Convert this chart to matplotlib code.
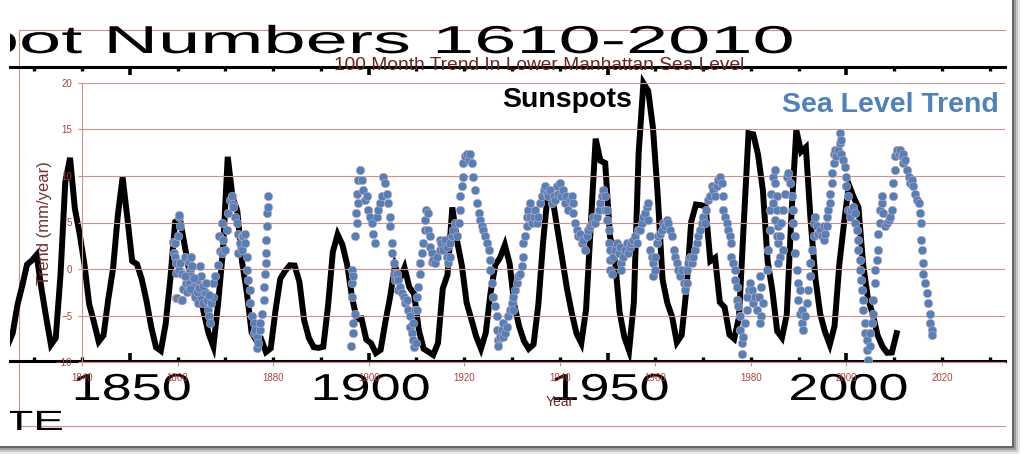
import numpy as np
import matplotlib
matplotlib.use('Agg')
import matplotlib.pyplot as plt
from matplotlib.patches import Rectangle
from matplotlib.lines import Line2D
from matplotlib.patheffects import AbstractPathEffect
from matplotlib.transforms import Affine2D, Bbox

# ---------------- data ----------------
# yearly mean sunspot number (black line, pasted-in chart)
ss_year = np.arange(1823, 2011)
ss_num = [1.8, 8.5, 16.6, 36.3, 49.6, 64.2, 67.0, 70.9, 47.8, 27.5, 8.5, 13.2, 56.9,
          121.5, 138.3, 103.2, 85.7, 64.6, 36.7, 24.2, 10.7, 15.0, 40.1, 61.5, 98.5,
          124.7, 96.3, 66.6, 64.5, 54.1, 39.0, 20.6, 6.7, 4.3, 22.7, 54.8, 93.8, 95.8,
          77.2, 59.1, 44.0, 47.0, 30.5, 16.3, 7.3, 37.6, 74.0, 139.0, 111.2, 101.6,
          66.2, 44.7, 17.0, 11.3, 12.4, 3.4, 6.0, 32.3, 54.3, 59.7, 63.7, 63.5, 52.2,
          25.4, 13.1, 6.8, 6.3, 7.1, 35.6, 73.0, 85.1, 78.0, 64.0, 41.8, 26.2, 26.7,
          12.1, 9.5, 2.7, 5.0, 24.4, 42.0, 63.5, 53.8, 62.0, 48.5, 43.9, 18.6, 5.7,
          3.6, 1.4, 9.6, 47.4, 57.1, 103.9, 80.6, 63.6, 37.6, 26.1, 14.2, 5.8, 16.7,
          44.3, 63.9, 69.0, 77.8, 64.9, 35.7, 21.2, 11.1, 5.7, 8.7, 36.1, 79.7, 114.4,
          109.6, 88.8, 67.8, 47.5, 30.6, 16.3, 9.6, 33.2, 92.6, 151.6, 136.3, 134.7,
          83.9, 69.4, 31.5, 13.9, 4.4, 38.0, 141.7, 190.2, 184.8, 159.0, 112.3, 53.9,
          37.6, 27.9, 10.2, 15.1, 47.0, 93.8, 105.9, 105.5, 104.5, 66.6, 68.9, 38.0,
          34.5, 15.5, 12.6, 27.5, 92.5, 155.4, 154.6, 140.4, 115.9, 66.6, 45.9, 17.9,
          13.4, 29.4, 100.2, 157.6, 142.6, 145.7, 94.3, 54.6, 29.9, 17.5, 8.6, 21.5,
          64.3, 93.3, 119.6, 111.0, 104.0, 63.7, 40.4, 29.8, 15.2, 7.5, 2.9, 3.1, 16.5]

# 100 month sea level trend, Lower Manhattan (mm/year)
sl_1859 = [(1859.0, 2.9), (1859.3, 1.7), (1859.5, 1.3), (1859.5, 2.8), (1859.6, 0.6),
           (1859.7, -0.4), (1859.6, -3.1), (1859.8, -3.1), (1860.0, 3.5), (1860.2, 5.6),
           (1860.4, 5.8), (1860.5, 4.6), (1860.2, -0.1), (1860.8, -3.3), (1860.9, -3.3),
           (1860.6, 0.6), (1860.9, -0.5), (1861.2, -2.1), (1861.6, 1.3), (1861.8, -1.5),
           (1862.3, 0.8), (1862.3, -1.5), (1862.6, -0.1), (1862.9, 1.3), (1862.9, -0.8),
           (1863.0, 0.3), (1863.3, -1.9), (1863.6, -3.0), (1864.0, -1.2), (1864.3, -3.7),
           (1864.7, 0.3), (1865.0, -0.8), (1865.0, -3.0), (1865.4, -3.7), (1865.7, -2.5),
           (1866.1, -3.3), (1866.4, -4.4), (1866.5, -5.1), (1866.8, -5.8), (1867.1, -3.7),
           (1867.5, -3.0), (1867.5, -1.5), (1867.8, -0.8), (1861.5, -0.8), (1862.0, -2.5),
           (1862.6, -2.2), (1863.5, -1.0), (1864.0, -2.5), (1864.5, -2.0), (1865.3, -1.8),
           (1866.0, -1.5), (1866.6, -2.8),
           (1868.5, 0.4), (1868.7, 3.5), (1868.9, 1.9), (1869.2, 4.9), (1869.2, 1.7),
           (1869.6, 3.1), (1869.9, 2.0), (1870.3, 4.2), (1870.6, 6.0), (1871.0, 7.4),
           (1871.3, 7.8), (1871.5, 7.0), (1871.7, 6.7), (1872.0, 5.6), (1872.4, 4.9),
           (1872.7, 3.8), (1872.7, 1.7), (1873.1, 2.8), (1873.4, 2.0), (1873.4, 3.5),
           (1873.8, 3.5), (1874.1, 3.8), (1874.1, 2.8), (1874.5, 1.3), (1874.5, -0.1),
           (1874.8, -1.2), (1875.2, -2.3), (1875.2, -3.7), (1875.5, -5.1), (1875.9, -5.8),
           (1875.9, -6.9), (1876.2, -6.6), (1876.6, -7.3), (1876.6, -8.5), (1876.9, -8.0),
           (1877.3, -6.6), (1877.3, -5.8), (1877.6, -4.8), (1878.0, -3.3), (1878.1, -1.9),
           (1878.3, -0.5), (1878.5, 0.6), (1878.5, 1.7), (1878.6, 3.1), (1878.8, 4.6),
           (1878.8, 6.0), (1879.0, 6.7), (1879.0, 7.8)]

sl_1896 = [(1896.4, -8.3), (1896.5, -0.1), (1896.6, -1.5), (1896.8, -6.9), (1896.8, -5.8),
           (1896.7, -0.8), (1896.5, -3.0), (1897.1, -4.8), (1897.1, 3.5), (1897.5, 4.9),
           (1897.4, 6.0), (1897.8, 7.1), (1897.6, 8.1), (1897.8, 9.6), (1898.2, 10.6),
           (1898.5, 9.6), (1898.9, 8.5), (1899.2, 7.4), (1899.6, 7.8), (1899.9, 6.3),
           (1900.3, 5.6), (1900.6, 4.9), (1900.9, 3.8), (1901.3, 2.8), (1901.7, 5.6),
           (1902.0, 6.3), (1902.4, 7.1), (1902.7, 7.8), (1903.1, 9.9), (1903.4, 9.2),
           (1903.8, 8.1), (1904.1, 7.1), (1904.5, 5.6), (1904.5, 4.6), (1904.8, 2.8),
           (1904.8, 1.7), (1905.2, 0.6), (1905.2, -0.5), (1905.5, -1.2), (1905.9, -0.5),
           (1906.2, -1.2), (1906.2, -2.3), (1906.6, -1.9), (1906.9, -2.6), (1907.3, -3.0),
           (1907.6, -3.7), (1908.0, -3.3), (1908.3, -4.4), (1908.6, -5.1), (1908.6, -6.2),
           (1909.0, -6.9), (1909.3, -7.6), (1909.5, -8.4), (1909.8, -8.0), (1909.3, -5.8),
           (1909.7, -4.4), (1910.1, -3.0), (1910.1, -4.4), (1910.4, -1.9), (1910.7, -0.5),
           (1910.7, 0.6), (1911.1, 1.7), (1911.4, 2.8), (1911.8, 4.2), (1911.8, 5.3),
           (1912.1, 6.3), (1912.5, 6.0), (1912.5, 4.2), (1912.8, 3.5), (1912.8, 2.4),
           (1913.2, 1.7), (1913.2, 0.8), (1913.5, 1.0), (1913.9, 0.6), (1914.2, 1.3),
           (1914.9, 2.0), (1914.9, 3.1), (1915.2, 2.8), (1915.6, 2.0), (1915.9, 3.1),
           (1916.3, 2.4), (1916.3, 1.3), (1916.7, 0.6), (1917.0, 1.3), (1917.0, 2.8),
           (1917.4, 3.5), (1917.7, 4.2), (1918.1, 4.9), (1918.4, 3.5), (1918.8, 4.9),
           (1919.1, 6.3), (1919.1, 7.8), (1919.5, 8.9), (1919.8, 9.9), (1919.8, 11.4),
           (1920.2, 12.1), (1920.5, 12.4), (1920.9, 11.7), (1921.2, 12.4), (1921.6, 11.4),
           (1921.9, 9.9), (1922.3, 8.5), (1922.6, 7.1), (1923.0, 6.0), (1923.3, 5.3),
           (1923.7, 4.6), (1924.0, 4.2), (1924.4, 3.5), (1924.7, 2.8), (1925.1, 2.0),
           (1925.4, 1.0), (1925.4, -0.1), (1925.8, -1.5), (1926.1, -3.0), (1926.5, -4.0),
           (1926.8, -5.1), (1926.8, -6.6), (1927.1, -7.6), (1927.1, -8.3), (1927.5, -7.3),
           (1927.8, -6.6), (1928.2, -5.8), (1928.2, -7.3), (1928.5, -6.9), (1928.9, -6.2),
           (1929.2, -5.1), (1929.6, -4.4), (1929.9, -3.7), (1930.3, -3.0), (1930.3, -4.4),
           (1930.6, -2.3), (1931.0, -1.5), (1931.3, -0.8), (1931.7, -0.5), (1932.0, 0.3),
           (1932.4, 1.3), (1932.4, 2.8), (1932.7, 3.5), (1933.1, 4.6), (1933.1, 5.6),
           (1933.4, 6.3), (1933.8, 7.1), (1933.8, 5.6), (1934.1, 4.9), (1934.5, 5.6),
           (1934.8, 6.3), (1935.2, 4.9), (1935.5, 5.6), (1935.9, 7.1), (1936.2, 7.8),
           (1936.6, 8.5), (1936.9, 8.9), (1937.3, 8.1), (1937.6, 7.8), (1938.0, 8.5),
           (1938.3, 7.1), (1938.7, 7.8), (1939.0, 7.4), (1939.4, 8.9), (1939.7, 8.1)]

sl_1940 = [(1940.0, 9.2), (1940.3, 7.8), (1940.7, 8.5), (1941.1, 7.1), (1941.4, 7.8),
           (1941.8, 6.3), (1942.1, 7.4), (1942.5, 7.8), (1942.8, 7.1), (1942.8, 6.0),
           (1943.2, 4.9), (1943.5, 4.2), (1943.9, 3.5), (1944.2, 3.8), (1944.6, 2.8),
           (1944.9, 3.1), (1945.3, 2.0), (1945.6, 3.5), (1945.9, 4.2), (1946.3, 4.6),
           (1946.7, 4.9), (1947.0, 5.6), (1947.4, 4.9), (1947.7, 5.6), (1948.1, 6.3),
           (1948.4, 7.1), (1948.8, 7.8), (1949.1, 8.5), (1949.5, 7.8), (1949.5, 6.3),
           (1949.8, 6.3), (1949.8, 5.3), (1950.2, 4.2), (1950.2, 2.8), (1950.5, 2.0),
           (1950.5, 1.0), (1950.5, -0.1), (1950.9, -0.5), (1951.2, 1.3), (1951.6, 2.0),
           (1951.9, 2.8), (1952.3, 1.7), (1952.6, 2.4), (1952.9, 0.6), (1952.9, -0.1),
           (1953.3, 1.3), (1953.6, 2.0), (1954.0, 2.8), (1954.3, 1.7), (1954.7, 2.4),
           (1955.0, 2.8), (1955.4, 3.1), (1955.7, 3.5), (1956.1, 2.8), (1956.4, 4.2),
           (1956.8, 4.2), (1957.1, 4.9), (1957.5, 5.6), (1957.8, 6.0), (1958.2, 6.7),
           (1958.5, 7.1), (1958.5, 5.3), (1958.9, 3.5), (1958.9, 2.0), (1959.2, 1.3),
           (1959.6, 0.6), (1959.6, -0.8), (1959.9, -0.1), (1959.9, 1.3), (1960.3, 2.8),
           (1960.6, 3.5), (1961.0, 3.8), (1961.3, 4.2), (1961.7, 4.9), (1962.0, 4.6),
           (1962.4, 5.3), (1962.7, 4.9), (1963.1, 4.2), (1963.4, 3.5), (1963.8, 2.0),
           (1964.1, 1.3), (1964.5, 0.6), (1964.8, -0.1), (1965.2, -0.8), (1965.5, -0.1),
           (1965.9, -1.5), (1966.2, -2.3), (1966.6, -1.5), (1966.6, -0.1), (1966.9, 0.6),
           (1967.3, 1.3), (1967.6, 0.6), (1967.9, 1.3), (1968.3, 2.0), (1968.7, 2.8),
           (1969.0, 3.5), (1969.3, 4.2), (1969.7, 4.9), (1970.0, 5.6), (1970.4, 4.9),
           (1970.7, 6.3), (1971.1, 7.4), (1971.4, 7.8), (1971.8, 8.9), (1972.1, 8.5),
           (1972.5, 7.8), (1972.8, 8.9), (1973.2, 9.6), (1973.5, 9.9), (1973.9, 9.2),
           (1974.2, 7.8), (1974.2, 6.3), (1974.6, 5.6), (1974.9, 4.9), (1975.3, 4.2),
           (1975.6, 3.5), (1975.9, 2.8), (1975.9, 1.3), (1976.3, 0.6), (1976.7, -0.1),
           (1976.7, -1.2), (1977.0, -1.9), (1977.0, -3.3), (1977.4, -4.0), (1977.7, -5.1),
           (1977.7, -6.6), (1978.1, -8.0), (1978.1, -9.1), (1978.4, -7.3), (1978.8, -5.8),
           (1979.1, -4.4), (1979.1, -3.0), (1979.5, -2.3), (1979.8, -1.5), (1980.2, -2.3),
           (1980.5, -3.7), (1980.9, -3.0), (1981.2, -4.4), (1981.6, -3.0)]

sl_1982 = [(1981.9, -0.8), (1982.2, -1.9), (1982.6, -3.7), (1982.2, -5.1), (1981.9, -5.8),
           (1983.3, -0.1), (1983.6, 2.0), (1984.0, 4.2), (1984.0, 6.3), (1984.3, 8.1),
           (1984.7, 9.9), (1985.0, 10.6), (1985.0, 9.2), (1985.4, 7.8), (1985.4, 6.3),
           (1985.7, 4.6), (1985.7, 2.8), (1986.1, 1.3), (1985.7, 0.6), (1985.4, 3.5),
           (1985.0, 5.3), (1984.7, 7.1), (1986.1, 3.5), (1986.4, 4.9), (1986.8, 6.3),
           (1986.8, 2.0), (1987.1, 8.1), (1987.5, 9.9), (1987.8, 10.3), (1988.2, 9.2),
           (1988.5, 7.8), (1988.9, 6.3), (1988.9, 4.9), (1989.2, 3.5), (1989.2, 1.7),
           (1989.6, -0.1), (1989.9, -1.5), (1989.9, -3.3), (1990.3, -4.8), (1990.6, -5.8),
           (1990.9, -6.6), (1990.6, -4.4), (1990.3, -2.3), (1991.3, -5.1), (1991.7, -3.7),
           (1992.0, -2.3), (1992.4, -0.8), (1992.4, 0.6), (1992.7, 2.0), (1993.1, 3.5),
           (1993.1, 4.9), (1993.4, 5.6), (1993.8, 4.6), (1994.1, 3.8), (1994.5, 4.2),
           (1994.8, 3.5), (1995.2, 3.1), (1995.2, 4.6), (1995.5, 3.8), (1995.9, 4.6),
           (1995.9, 5.6), (1996.2, 6.3), (1996.6, 7.1), (1996.6, 8.1), (1996.9, 9.2),
           (1996.9, 10.3), (1997.3, 11.4), (1997.3, 12.4), (1997.6, 12.8), (1997.9, 12.1),
           (1998.3, 12.8), (1998.6, 13.5), (1998.6, 14.6), (1998.9, 13.9), (1998.9, 12.4),
           (1999.3, 11.7), (1999.6, 11.0), (1999.9, 9.9), (1999.9, 8.9), (2000.3, 7.8),
           (2000.3, 6.3), (2000.7, 5.6), (2001.0, 6.3), (2001.4, 6.7), (2001.7, 6.0),
           (2001.7, 4.9), (2002.1, 4.2), (2002.4, 3.1), (2002.4, 2.0), (2002.8, 1.0),
           (2002.8, -0.1), (2003.1, -1.2), (2003.2, -2.3), (2003.5, -3.3), (2003.5, -4.4),
           (2003.9, -5.8), (2003.9, -6.9), (2004.2, -7.6), (2004.2, -8.7), (2004.6, -9.8),
           (2004.9, -8.3), (2004.9, -6.9), (2005.3, -5.8), (2005.6, -4.8), (2005.6, -3.3),
           (2006.0, -1.5), (2006.0, -0.1), (2006.3, 1.0), (2006.7, 2.0), (2006.7, 3.8),
           (2007.0, 4.9), (2007.0, 6.3), (2007.4, 7.1), (2007.4, 7.8), (2007.7, 6.0),
           (2008.1, 4.6), (2008.4, 4.9), (2008.8, 5.3), (2009.1, 5.6), (2009.5, 6.3),
           (2009.8, 7.8), (2009.8, 9.2), (2010.2, 10.6), (2010.2, 12.1), (2010.5, 12.8),
           (2010.9, 12.4), (2011.2, 12.8), (2011.6, 12.1), (2011.9, 12.4), (2011.9, 11.4),
           (2012.3, 11.7), (2012.6, 10.6), (2013.0, 9.9), (2013.3, 9.2), (2013.7, 9.6),
           (2014.0, 8.9), (2014.4, 8.1), (2014.7, 7.4), (2015.1, 7.1), (2015.4, 6.0),
           (2015.7, 4.9), (2015.7, 3.1), (2015.9, 2.0), (2016.1, 0.6), (2016.1, -0.5),
           (2016.4, -1.5), (2016.8, -2.6), (2017.1, -3.7), (2017.5, -4.8), (2017.5, -5.8),
           (2017.8, -6.6), (2017.8, -7.1)]

big_years = [1850, 1900, 1950, 2000]
xtick_years = [1840, 1860, 1880, 1900, 1920, 1940, 1960, 1980, 2000, 2020]
ytick_vals = [-10, -5, 0, 5, 10, 15, 20]

# ---------------- helpers ----------------
W, H = 1024, 458
PX_PER_YEAR = 4.778


def box(x0, y0, x1, y1):
    # pixel box (origin top-left) -> figure fraction [l, b, w, h]
    return [x0 / W, 1 - y1 / H, (x1 - x0) / W, (y1 - y0) / H]


def px(year):
    return 82 + (year - 1840) * PX_PER_YEAR


class Stretch(AbstractPathEffect):
    # widens glyphs sideways, like the stretched sunspot picture
    def __init__(self, sx):
        super().__init__()
        self.sx = sx

    def draw_path(self, renderer, gc, tpath, affine, rgbFace=None):
        renderer.draw_path(gc, tpath, Affine2D().scale(self.sx, 1.0) + affine, rgbFace)


def ftext(x, y, s, **kw):
    return fig.text(x / W, 1 - y / H, s, **kw)


FONT = 'Liberation Sans'
GRID = '#d48f8d'
TICKLBL = '#a9443f'
DARKRED = '#6b2424'
BLUE = '#4f81bd'

fig = plt.figure(figsize=(10.24, 4.58), dpi=100)
fig.patch.set_facecolor('white')

# photo frame with drop shadow
for off, a in [(8, 0.08), (6, 0.14), (4, 0.22), (2, 0.35)]:
    fig.add_artist(Rectangle(box(-20, -20 + off, 1012 + off, 446 + off)[:2],
                             (1032 + off) / W, 466 / H, transform=fig.transFigure,
                             facecolor='black', alpha=a, edgecolor='none', zorder=-20))
fig.add_artist(Rectangle(box(-20, -20, 1012, 446)[:2], 1032 / W, 466 / H,
                         transform=fig.transFigure, facecolor='white',
                         edgecolor='none', zorder=-19))

# excel chart-area border
for xs, ys in [([19, 19], [30, 426]), ([19, 1005], [30, 30]), ([19, 1005], [426, 426])]:
    fig.add_artist(Line2D([x / W for x in xs], [1 - y / H for y in ys], color=GRID,
                          lw=0.8, transform=fig.transFigure, zorder=-5))

# the pasted sunspot picture is cut at x = 10
clip = Bbox.from_extents(10, 0, W, H)

# ---------------- sunspot chart (black) ----------------
ax_ss = fig.add_axes(box(10, 67, 1005, 361))
ax_ss.set_zorder(1)
ax_ss.patch.set_visible(False)
ax_ss.plot(ss_year + 0.5, ss_num, color='black', lw=4.3, solid_joinstyle='miter')
ax_ss.set_xlim(1840 + (10 - 82) / PX_PER_YEAR, 1840 + (1005 - 82) / PX_PER_YEAR)
ax_ss.set_ylim(-2.8, 201.4)
for side in ['left', 'right']:
    ax_ss.spines[side].set_visible(False)
for side in ['top', 'bottom']:
    ax_ss.spines[side].set_linewidth(2.2)
    ax_ss.spines[side].set_color('black')
ax_ss.set_xticks(big_years)
ax_ss.set_xticks([y for y in range(1830, 2040, 10) if y not in big_years], minor=True)
ax_ss.set_yticks([])
ax_ss.tick_params(axis='x', which='major', direction='in', top=True, bottom=True,
                  length=6, width=2.6, labelbottom=False, color='black')
ax_ss.tick_params(axis='x', which='minor', direction='in', top=True, bottom=True,
                  length=3, width=2.4, color='black')

big = []
big.append(ftext(-196, 53, 'Sunspot Numbers 1610-2010', fontsize=28, family=FONT,
                 color='black', ha='left', va='baseline',
                 path_effects=[Stretch(1.95)], zorder=1))
for yr in big_years:
    big.append(ftext(px(yr + 0.5) - 60.5, 400, str(yr), fontsize=27, family=FONT,
                     color='black', ha='left', va='baseline',
                     path_effects=[Stretch(1.44)], zorder=1))
big.append(ftext(-55, 430, 'DATE', fontsize=20, family=FONT, color='black', ha='left',
                 va='baseline', path_effects=[Stretch(1.65)], zorder=1))
for t in big:
    t.set_clip_box(clip)

# ---------------- sea level chart (excel) ----------------
ax = fig.add_axes(box(82, 83, 1005, 362))
ax.set_zorder(2)
ax.patch.set_visible(False)
for chunk in [sl_1859, sl_1896, sl_1940, sl_1982]:
    yrs, vals = zip(*chunk)
    ax.scatter(yrs, vals, s=38, color=BLUE, edgecolors='#e2a6a6', linewidths=0.4,
               zorder=3)
ax.set_xlim(1840, 1840 + (1005 - 82) / PX_PER_YEAR)
ax.set_ylim(-10, 20)
ax.set_xticks(xtick_years)
ax.set_yticks(ytick_vals)
ax.yaxis.grid(True, color=GRID, lw=0.8)
ax.set_axisbelow(True)
for side in ['top', 'right']:
    ax.spines[side].set_visible(False)
for side in ['left', 'bottom']:
    ax.spines[side].set_color(GRID)
    ax.spines[side].set_linewidth(0.8)
ax.tick_params(axis='both', direction='out', length=3, width=0.8, color=GRID,
               labelcolor=TICKLBL, labelsize=7)
ax.tick_params(axis='x', pad=5)
ax.tick_params(axis='y', pad=4)
for lbl in ax.get_xticklabels() + ax.get_yticklabels():
    lbl.set_family(FONT)

ftext(539, 70, '100 Month Trend In Lower Manhattan Sea Level', fontsize=13.8,
      family=FONT, color=DARKRED, ha='center', va='baseline', zorder=3)
ftext(44, 223, 'Trend (mm/year)', fontsize=12, family=FONT, color='#7b2d2d',
      rotation=90, ha='center', va='center', zorder=3)
ftext(560, 402, 'Year', fontsize=10, family=FONT, color=DARKRED, ha='center',
      va='center', zorder=3)
ftext(502, 107, 'Sunspots', fontsize=20.5, family=FONT, fontweight='bold',
      color='black', ha='left', va='baseline', zorder=3)
ftext(782, 112, 'Sea Level Trend', fontsize=20.5, family=FONT, fontweight='bold',
      color=BLUE, ha='left', va='baseline', zorder=3)

fig.savefig('out.png', dpi=100)
